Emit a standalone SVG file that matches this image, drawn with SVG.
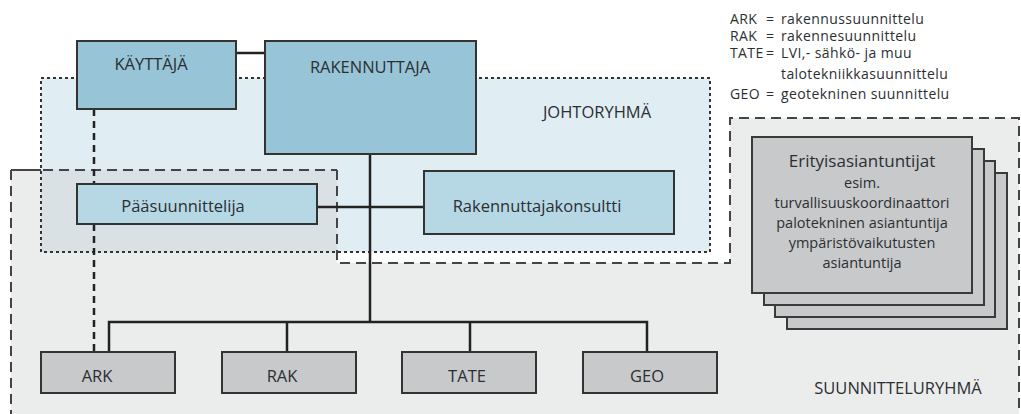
<svg xmlns="http://www.w3.org/2000/svg" width="1021" height="414" viewBox="0 0 1021 414">
<style>
text{font-family:"Open Sans","Liberation Sans",sans-serif;fill:#2b2f33}
.n{fill:#97c4d6;stroke:#333;stroke-width:2}
.m{fill:#b6d8e5;stroke:#333;stroke-width:2}
.g{fill:#c8c9cb;stroke:#333;stroke-width:2}
.e{fill:#c8c9cb;stroke:#3a3a3a;stroke-width:2}
.lbl{font-size:16.5px;text-anchor:middle}
.leg{font-size:14px;letter-spacing:0.4px}
.sp{font-size:14.5px;text-anchor:middle}
.c{stroke:#222;stroke-width:2.5;fill:none}
.cd{stroke:#222;stroke-width:2.5;fill:none;stroke-dasharray:7 5}
</style>
<rect width="1021" height="414" fill="#ffffff"/>
<g id="suunnitteluryhma">
<path d="M11,420 L11,170 L337,170 L337,263 L730,263 L730,118 L1019,118 L1019,420 Z" fill="#ebecec"/>
<path d="M11,420 L11,170 L337,170 L337,263 L730,263 L730,118 L1019,118 L1019,420" fill="none" stroke="#444" stroke-width="2" stroke-dasharray="10 6"/>
<text x="898" y="394" style="font-size:16.5px;text-anchor:middle">SUUNNITTELURYHMÄ</text>
</g>
<g id="johtoryhma">
<rect x="41" y="78" width="669" height="174" fill="#e0edf3"/>
<rect x="41" y="170" width="296" height="82" fill="#d9e1e5"/>
<path d="M337,170 L337,263" fill="none" stroke="#444" stroke-width="2" stroke-dasharray="10 6"/>
<path d="M11,170 L337,170" fill="none" stroke="#444" stroke-width="2" stroke-dasharray="10 6"/>
<rect x="41" y="78" width="669" height="174" fill="none" stroke="#333" stroke-width="2" stroke-dasharray="3 3"/>
<text x="597" y="118" style="font-size:16.5px;text-anchor:middle">JOHTORYHMÄ</text>
</g>
<g id="connectors">
<line class="c" x1="236" y1="53" x2="265" y2="53"/>
<line class="c" x1="370" y1="154" x2="370" y2="322"/>
<line class="c" x1="317" y1="207" x2="424" y2="207"/>
<polyline class="c" points="109,352 109,322 647,322 647,352"/>
<line class="c" x1="287" y1="322" x2="287" y2="352"/>
<line class="c" x1="470" y1="322" x2="470" y2="352"/>
<line class="cd" x1="94" y1="109" x2="94" y2="184"/>
<line class="cd" x1="94" y1="224" x2="94" y2="352"/>
</g>
<g id="kayttaja">
<rect class="n" x="77" y="41" width="159" height="68"/>
<text class="lbl" x="151" y="70">KÄYTTÄJÄ</text>
</g>
<g id="rakennuttaja">
<rect class="n" x="265" y="41" width="211" height="113"/>
<text class="lbl" x="370" y="73">RAKENNUTTAJA</text>
</g>
<g id="paasuunnittelija">
<rect class="m" x="77" y="184" width="240" height="40"/>
<text class="lbl" x="183" y="212">Pääsuunnittelija</text>
</g>
<g id="rakennuttajakonsultti">
<rect class="m" x="424" y="171" width="250" height="63"/>
<text class="lbl" x="537" y="212">Rakennuttajakonsultti</text>
</g>
<g id="ark">
<rect class="g" x="41" y="352" width="134" height="41"/>
<text class="lbl" x="97" y="382">ARK</text>
</g>
<g id="rak">
<rect class="g" x="222" y="352" width="134" height="41"/>
<text class="lbl" x="282" y="382">RAK</text>
</g>
<g id="tate">
<rect class="g" x="402" y="352" width="134" height="41"/>
<text class="lbl" x="467" y="382">TATE</text>
</g>
<g id="geo">
<rect class="g" x="583" y="352" width="134" height="41"/>
<text class="lbl" x="647" y="382">GEO</text>
</g>
<g id="erityisasiantuntijat">
<rect class="e" x="787" y="173" width="220" height="156"/>
<rect class="e" x="775" y="161" width="220" height="156"/>
<rect class="e" x="764" y="149" width="220" height="156"/>
<rect class="e" x="752" y="137" width="220" height="156"/>
<text x="862" y="167" style="font-size:17px;text-anchor:middle">Erityisasiantuntijat</text>
<text class="sp" x="862" y="188">esim.</text>
<text class="sp" x="862" y="208">turvallisuuskoordinaattori</text>
<text class="sp" x="862" y="228">palotekninen asiantuntija</text>
<text class="sp" x="862" y="248">ympäristövaikutusten</text>
<text class="sp" x="862" y="268">asiantuntija</text>
</g>
<g id="legend">
<text class="leg" y="24"><tspan x="730">ARK</tspan><tspan x="766">=</tspan><tspan x="781">rakennussuunnittelu</tspan></text>
<text class="leg" y="41"><tspan x="730">RAK</tspan><tspan x="766">=</tspan><tspan x="781">rakennesuunnittelu</tspan></text>
<text class="leg" y="58"><tspan x="730">TATE</tspan><tspan x="766">=</tspan><tspan x="781">LVI,- sähkö- ja muu</tspan></text>
<text class="leg" y="79"><tspan x="781">talotekniikkasuunnittelu</tspan></text>
<text class="leg" y="99"><tspan x="730">GEO</tspan><tspan x="766">=</tspan><tspan x="781">geotekninen suunnittelu</tspan></text>
</g>
</svg>
